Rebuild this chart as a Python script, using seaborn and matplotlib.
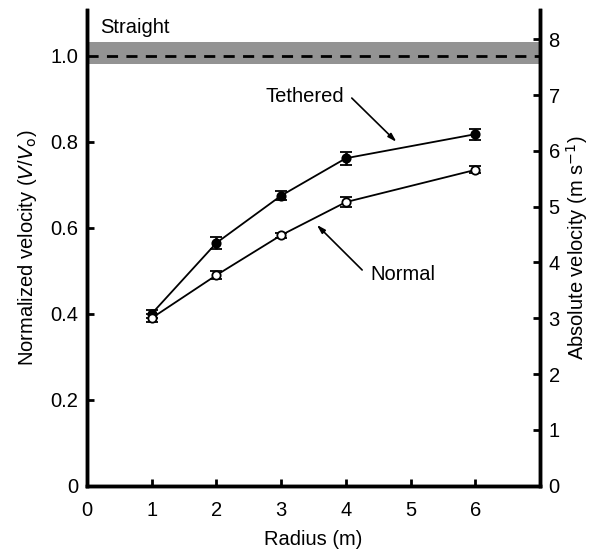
import matplotlib
matplotlib.use("Agg")
import matplotlib.pyplot as plt
import seaborn as sns
import pandas as pd

sns.set_style("ticks", {"axes.edgecolor": "black", "text.color": "black",
                        "xtick.color": "black", "ytick.color": "black",
                        "axes.labelcolor": "black"})
plt.rcParams['font.family'] = ['Liberation Sans', 'DejaVu Sans']

radius = [1, 2, 3, 4, 6]
tethered = [0.400, 0.565, 0.675, 0.762, 0.818]
tethered_err = [0.010, 0.014, 0.010, 0.015, 0.013]
normal = [0.390, 0.490, 0.583, 0.660, 0.735]
normal_err = [0.010, 0.010, 0.006, 0.011, 0.008]
v0 = 7.7
straight_band = (0.982, 1.032)

df = pd.DataFrame({"radius": radius * 2,
                   "v": tethered + normal,
                   "err": tethered_err + normal_err,
                   "cond": ["Tethered"] * 5 + ["Normal"] * 5})

fs = 14.5
fig = plt.figure(figsize=(5.95, 5.52), dpi=100)
ax = fig.add_axes([0.146, 0.12, 0.762, 0.862])

ax.axhspan(straight_band[0], straight_band[1], color="#939393", lw=0, zorder=1)
ax.axhline(1.0, color="black", ls=(0, (4, 3)), lw=2, zorder=2)

sns.lineplot(data=df, x="radius", y="v", hue="cond", palette=["black", "black"],
             lw=1.3, legend=False, ax=ax, zorder=3)
for cond, face in [("Tethered", "black"), ("Normal", "white")]:
    d = df[df.cond == cond]
    ax.errorbar(d.radius, d.v, yerr=d.err, fmt="o", ms=6, mfc=face, mec="black",
                mew=1.3, ecolor="black", elinewidth=1.8, capsize=4, capthick=1.8,
                zorder=4)

ax.set_xlim(0, 7)
ax.set_ylim(0, 1.107)
ax.set_xticks(range(0, 7))
ax.set_yticks([0, 0.2, 0.4, 0.6, 0.8, 1.0])
ax.set_yticklabels(["0", "0.2", "0.4", "0.6", "0.8", "1.0"])
ax.set_xlabel("Radius (m)", fontsize=fs, labelpad=7)
ax.set_ylabel("Normalized velocity ($\\it{V}$/$\\it{V}_{\\rm o}$)", fontsize=fs, labelpad=8)
ax.tick_params(direction="in", length=5, width=2, labelsize=fs, pad=6)
ax.tick_params(axis="x", pad=11)

ax2 = ax.twinx()
ax2.set_ylim(0, 1.107 * v0)
ax2.set_yticks(range(0, 9))
ax2.set_ylabel("Absolute velocity (m s$^{-1}$)", fontsize=fs, labelpad=3)
ax2.tick_params(direction="in", length=5, width=2, labelsize=fs, pad=6)

for a in (ax, ax2):
    for s in a.spines.values():
        s.set_linewidth(2.5)
ax.spines["top"].set_visible(False)
ax2.spines["top"].set_visible(False)

arrow = dict(arrowstyle="-|>,head_length=0.5,head_width=0.15", color="black",
             lw=1.2, shrinkA=0, shrinkB=0)
ax.text(0.2, 1.067, "Straight", fontsize=fs, va="center")
ax.text(3.97, 0.905, "Tethered", fontsize=fs, ha="right", va="center")
ax.annotate("", xy=(4.78, 0.80), xytext=(4.09, 0.902), arrowprops=arrow)
ax.text(4.38, 0.492, "Normal", fontsize=fs, ha="left", va="center")
ax.annotate("", xy=(3.55, 0.607), xytext=(4.25, 0.502), arrowprops=arrow)

fig.savefig("out.png", dpi=100)
